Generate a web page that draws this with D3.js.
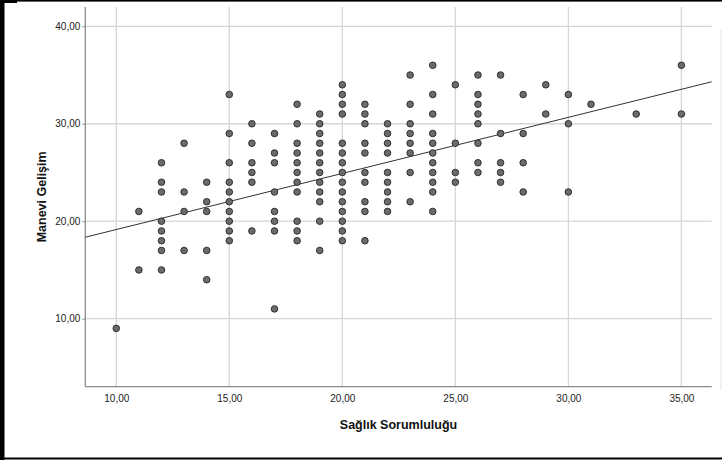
<!DOCTYPE html>
<html>
<head>
<meta charset="utf-8">
<script src="https://cdn.jsdelivr.net/npm/d3@7"></script>
<style>
  html, body { margin: 0; padding: 0; background: #fff; }
  svg { display: block; font-family: "Liberation Sans", Arial, sans-serif; }
</style>
</head>
<body>
<svg id="chart" width="722" height="461"></svg>
<script>
// Sağlık Sorumluluğu scores and the Manevi Gelişim scores observed at each one
const saglikValues = [10, 11, 12, 13, 14, 15, 16, 17, 18, 19, 20, 21, 22, 23, 24, 25, 26, 27, 28, 29, 30, 31, 33, 35];
const maneviByScore = [
  [9],
  [21, 15],
  [26, 24, 23, 20, 19, 18, 17, 15],
  [28, 23, 21, 17],
  [24, 22, 21, 17, 14],
  [33, 29, 26, 24, 23, 22, 21, 20, 19, 18],
  [30, 28, 26, 25, 24, 19],
  [29, 27, 26, 23, 21, 20, 19, 11],
  [32, 30, 28, 27, 26, 25, 24, 23, 20, 19, 18],
  [31, 30, 29, 28, 27, 26, 25, 24, 23, 22, 20, 17],
  [34, 33, 32, 31, 28, 27, 26, 25, 24, 23, 22, 21, 20, 19, 18],
  [32, 31, 30, 28, 27, 25, 24, 22, 21, 18],
  [30, 29, 28, 27, 25, 24, 23, 22, 21],
  [35, 32, 30, 29, 28, 27, 25, 22],
  [36, 33, 31, 29, 28, 27, 26, 25, 24, 23, 21],
  [34, 28, 25, 24],
  [35, 33, 32, 31, 30, 28, 26, 25],
  [35, 29, 26, 25, 24],
  [33, 29, 26, 23],
  [34, 31],
  [33, 30, 23],
  [32],
  [31],
  [36, 31]
];

// Fitted linear trend (Manevi = intercept + slope * Sağlık)
const fitIntercept = 13.39;
const fitSlope = 0.5756;

const xTicks = [10, 15, 20, 25, 30, 35];
const yTicks = [10, 20, 30, 40];
const xTitle = "Sağlık Sorumluluğu";
const yTitle = "Manevi Gelişim";

const points = saglikValues.flatMap((s, i) => maneviByScore[i].map(m => ({ s, m })));

const svg = d3.select("#chart");
const W = 722, H = 461;

// outer frame: left, top and bottom edges
const frame = svg.append("g").attr("fill", "#000");
frame.append("rect").attr("x", 0).attr("y", 0).attr("width", 4.5).attr("height", H - 1);
frame.append("rect").attr("x", 0).attr("y", 0).attr("width", W).attr("height", 1.6);
frame.append("rect").attr("x", 0).attr("y", 0).attr("width", 17).attr("height", 3);
frame.append("rect").attr("x", 0).attr("y", H - 3.5).attr("width", W).attr("height", 2);
// faint panel edge on the right
svg.append("line").attr("x1", 721).attr("x2", 721).attr("y1", 30).attr("y2", 390)
  .attr("stroke", "#e6e6e6").attr("stroke-width", 1);

const plot = { left: 85.3, right: 711.7, top: 7, bottom: 386.7 };

const x = d3.scaleLinear().domain([8.63, 36.34]).range([plot.left, plot.right]);
const y = d3.scaleLinear().domain([3.02, 41.98]).range([plot.bottom, plot.top]);

const fmt = v => d3.format(".2f")(v).replace(".", ",");

// grid
const grid = svg.append("g").attr("stroke", "#d6d6d6").attr("stroke-width", 1.3);
grid.selectAll(".gx").data(xTicks).join("line")
  .attr("x1", d => x(d)).attr("x2", d => x(d))
  .attr("y1", plot.top).attr("y2", plot.bottom);
grid.selectAll(".gy").data(yTicks).join("line")
  .attr("x1", plot.left).attr("x2", plot.right)
  .attr("y1", d => y(d)).attr("y2", d => y(d));

// axes
const xAxis = d3.axisBottom(x).tickValues(xTicks).tickFormat(fmt).tickSize(0).tickPadding(8);
const yAxis = d3.axisLeft(y).tickValues(yTicks).tickFormat(fmt).tickSize(3).tickPadding(2);

const gx = svg.append("g").attr("transform", `translate(0,${plot.bottom})`).call(xAxis);
const gy = svg.append("g").attr("transform", `translate(${plot.left},0)`).call(yAxis);
[gx, gy].forEach(g => {
  g.select(".domain").attr("stroke", "#8c8c8c").attr("stroke-width", 1.3);
  g.selectAll(".tick line").attr("stroke", "#8c8c8c");
  g.selectAll(".tick text").attr("fill", "#222").attr("font-size", 10)
    .attr("font-family", "Liberation Sans, Arial, sans-serif");
});
gx.select(".domain").attr("d", `M${plot.left},0H${plot.right}`);
gy.select(".domain").attr("d", `M0,${plot.top}V${plot.bottom}`);

// regression line across the plot
const x0 = x.domain()[0], x1 = x.domain()[1];
svg.append("line")
  .attr("x1", x(x0)).attr("y1", y(fitIntercept + fitSlope * x0))
  .attr("x2", x(x1)).attr("y2", y(fitIntercept + fitSlope * x1))
  .attr("stroke", "#333").attr("stroke-width", 1);

// points
svg.append("g").selectAll("circle").data(points).join("circle")
  .attr("cx", d => x(d.s)).attr("cy", d => y(d.m)).attr("r", 3.3)
  .attr("fill", "#6b6b6b").attr("stroke", "#262626").attr("stroke-width", 0.9);

// axis titles
svg.append("text").attr("x", (plot.left + plot.right) / 2).attr("y", 429)
  .attr("text-anchor", "middle").attr("font-size", 12.5).attr("font-weight", "bold")
  .attr("fill", "#111").text(xTitle);
svg.append("text")
  .attr("transform", `translate(46,${(plot.top + plot.bottom) / 2}) rotate(-90)`)
  .attr("text-anchor", "middle").attr("font-size", 12.5).attr("font-weight", "bold")
  .attr("fill", "#111").text(yTitle);
</script>
</body>
</html>
